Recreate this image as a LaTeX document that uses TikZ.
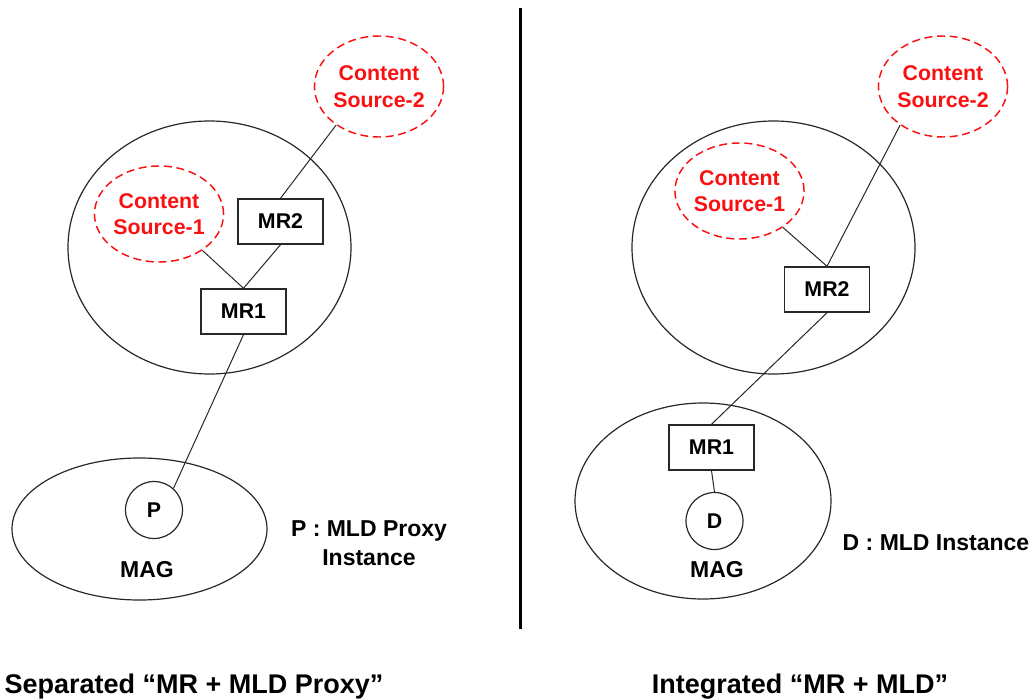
\documentclass[tikz,border=0pt]{standalone}
\usepackage{fontspec}
\setmainfont{Liberation Sans}
\usetikzlibrary{shapes.geometric}
\definecolor{srcred}{RGB}{250,16,16}
\definecolor{edge}{RGB}{40,40,40}
\begin{document}
\begin{tikzpicture}[x=0.75pt,y=-0.75pt,
  netarea/.style={ellipse, draw=edge, line width=0.9pt, inner sep=0pt},
  srcnode/.style={ellipse, draw=srcred, dash pattern=on 6pt off 3.5pt, line width=1.1pt,
    text=srcred, align=center, inner sep=0pt, minimum width=85.5pt,
    font=\bfseries\fontsize{16}{20}\selectfont},
  routerbox/.style={rectangle, draw=edge, fill=white, line width=1.1pt, inner sep=0pt,
    minimum width=63.75pt, minimum height=33.75pt,
    font=\bfseries\fontsize{16}{19}\selectfont},
  instnode/.style={circle, draw=edge, fill=white, line width=0.9pt, inner sep=0pt,
    minimum size=42.75pt, font=\bfseries\fontsize{16}{19}\selectfont},
  linkline/.style={draw=edge, line width=0.75pt},
  tagtext/.style={font=\bfseries\fontsize{17.25}{21.75}\selectfont, align=center, inner sep=0pt},
  captext/.style={font=\bfseries\fontsize{20.25}{24}\selectfont, anchor=base, inner sep=0pt}
]
\useasboundingbox (0,0) rectangle (1035,699);

% ---- left: separated MR + MLD proxy ----
\node[netarea, minimum width=212.25pt, minimum height=189.75pt] (netl) at (209.5,247.5) {};
\node[netarea, minimum width=191.25pt, minimum height=106.5pt] (magl) at (139.5,529) {};
\node[srcnode, minimum height=75.75pt] (cs2l) at (379,86.5) {Content\\Source-2};
\node[srcnode, minimum height=72pt] (cs1l) at (159,214) {Content\\Source-1};
\node[routerbox] (mr2l) at (280.5,221.5) {MR2};
\node[routerbox] (mr1l) at (243.5,311.5) {MR1};
\node[instnode] (pl) at (154,510) {P};
\node[tagtext] (magtl) at (147,570) {MAG};
\node[tagtext] (pdesc) at (369,543) {P : MLD Proxy\\Instance};

\draw[linkline] (cs2l.222) -- (mr2l.north);
\draw[linkline] (cs1l.-40) -- (mr1l.north);
\draw[linkline] (mr2l.south) -- (mr1l.north);
\draw[linkline] (mr1l.south) -- (pl.48);

% ---- divider ----
\coordinate (divtop) at (520,8);
\coordinate (divbot) at (520,629);
\draw[line width=2.25pt, black] (divtop) -- (divbot);

% ---- right: integrated MR + MLD ----
\node[netarea, minimum width=212.25pt, minimum height=189.75pt] (netr) at (773.5,247.5) {};
\node[netarea, minimum width=192pt, minimum height=147pt] (magr) at (703,501) {};
\node[srcnode, minimum height=75.75pt] (cs2r) at (943,86.5) {Content\\Source-2};
\node[srcnode, minimum height=72pt] (cs1r) at (739.5,191) {Content\\Source-1};
\node[routerbox] (mr2r) at (827,289.5) {MR2};
\node[routerbox] (mr1r) at (711.5,447.5) {MR1};
\node[instnode] (dr) at (714.5,521) {D};
\node[tagtext] (magtr) at (717,570) {MAG};
\node[tagtext] (ddesc) at (936,543) {D : MLD Instance};

\draw[linkline] (cs1r.-40) -- (mr2r.north);
\draw[linkline] (cs2r.222) -- (mr2r.north);
\draw[linkline] (mr2r.south) -- (mr1r.north);
\draw[linkline] (mr1r.south) -- (dr.north);

% ---- captions ----
\node[captext] (capl) at (194,693) {Separated “MR + MLD Proxy”};
\node[captext] (capr) at (800,693) {Integrated “MR + MLD”};
\end{tikzpicture}
\end{document}
